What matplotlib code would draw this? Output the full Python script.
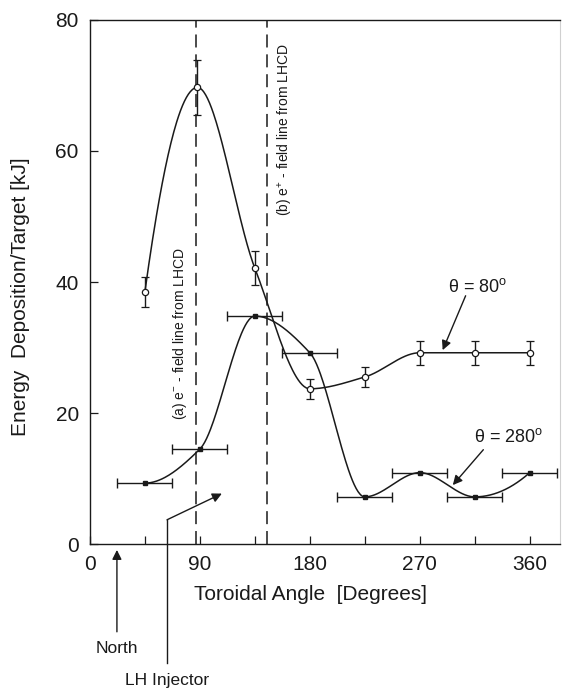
import numpy as np
import matplotlib
matplotlib.use("Agg")
import matplotlib.pyplot as plt

plt.rcParams['font.family'] = ['Liberation Sans', 'DejaVu Sans']
plt.rcParams['mathtext.fontset'] = 'custom'
plt.rcParams['mathtext.rm'] = 'Liberation Sans'
plt.rcParams['mathtext.it'] = 'Liberation Sans:italic'

# theta = 80 deg series (open circles, vertical error bars)
ang80 = [45, 88, 135, 180, 225, 270, 315, 360]
e80 = [38.5, 69.7, 42.1, 23.7, 25.5, 29.2, 29.2, 29.2]
err80 = [2.3, 4.2, 2.6, 1.5, 1.6, 1.8, 1.8, 1.8]

# theta = 280 deg series (dots, horizontal error bars)
ang280 = [45, 90, 135, 180, 225, 270, 315, 360]
e280 = [9.3, 14.5, 34.8, 29.2, 7.2, 10.9, 7.2, 10.9]
xerr280 = 22.5

field_lines = [87, 145]
ink = '#1a1a1a'


def pchip(x, y, xs):
    x = np.asarray(x, float)
    y = np.asarray(y, float)
    h = np.diff(x)
    d = np.diff(y) / h
    n = len(x)
    m = np.zeros(n)
    for k in range(1, n - 1):
        if d[k - 1] * d[k] > 0:
            w1 = 2 * h[k] + h[k - 1]
            w2 = h[k] + 2 * h[k - 1]
            m[k] = (w1 + w2) / (w1 / d[k - 1] + w2 / d[k])
    for i, (a, b, hh0, hh1) in ((0, (d[0], d[1], h[0], h[1])),
                                (n - 1, (d[-1], d[-2], h[-1], h[-2]))):
        v = ((2 * hh0 + hh1) * a - hh0 * b) / (hh0 + hh1)
        if np.sign(v) != np.sign(a):
            v = 0.0
        elif np.sign(a) != np.sign(b) and abs(v) > abs(3 * a):
            v = 3 * a
        m[i] = v
    idx = np.clip(np.searchsorted(x, xs) - 1, 0, n - 2)
    t = (xs - x[idx]) / h[idx]
    h00 = 2 * t**3 - 3 * t**2 + 1
    h10 = t**3 - 2 * t**2 + t
    h01 = -2 * t**3 + 3 * t**2
    h11 = t**3 - t**2
    return (h00 * y[idx] + h10 * h[idx] * m[idx]
            + h01 * y[idx + 1] + h11 * h[idx] * m[idx + 1])


fig = plt.figure(figsize=(5.62, 6.89), dpi=100)
ax = fig.add_axes([0.160, 0.2104, 0.837, 0.7606])

xs80 = np.linspace(ang80[0], ang80[-1], 400)
ax.plot(xs80, pchip(ang80, e80, xs80), color=ink, lw=1.1)
xs280 = np.linspace(ang280[0], ang280[-1], 400)
ax.plot(xs280, pchip(ang280, e280, xs280), color=ink, lw=1.1)

ax.errorbar(ang80, e80, yerr=err80, fmt='o', ms=4.5, mfc='white', mec=ink,
            mew=0.9, ecolor=ink, elinewidth=1.0, capsize=3, capthick=1.0)
ax.errorbar(ang280, e280, xerr=xerr280, fmt='s', ms=2.5, mfc=ink, mec=ink,
            ecolor=ink, elinewidth=1.0, capsize=3.5, capthick=1.0)

for xv in field_lines:
    ax.axvline(xv, color=ink, lw=1.1, dashes=(8.5, 4.5))

ax.set_xlim(0, 385)
ax.set_ylim(0, 80)
ax.set_xticks([0, 90, 180, 270, 360])
ax.set_xticks([45, 135, 225, 315], minor=True)
ax.set_yticks([0, 20, 40, 60, 80])
ax.tick_params(axis='both', which='both', direction='in', length=6,
               width=0.9, labelsize=15, pad=8, colors=ink)
ax.tick_params(axis='x', which='minor', length=6)
for s in ['left', 'bottom', 'top']:
    ax.spines[s].set_linewidth(1.0)
    ax.spines[s].set_color(ink)
ax.spines['right'].set_color('#d0d0d0')
ax.spines['right'].set_linewidth(0.8)

ax.text(73.8, 32.1, '(a) e$^{-}$ - field line from LHCD', rotation=90,
        ha='center', va='center', fontsize=10, color=ink)
ax.text(160, 63.3, '(b) e$^{+}$ - field line from LHCD', rotation=90,
        ha='center', va='center', fontsize=10, color=ink)

ax.text(317, 39.2, r'θ = 80$^{\rm o}$', ha='center', va='center',
        fontsize=13, color=ink)
ax.annotate('', xy=(288.7, 29.6), xytext=(307.5, 37.9),
            arrowprops=dict(arrowstyle='-|>', color=ink, lw=1.0,
                            mutation_scale=14, shrinkA=0, shrinkB=0))
ax.text(343, 16.3, r'θ = 280$^{\rm o}$', ha='center', va='center',
        fontsize=13, color=ink)
ax.annotate('', xy=(297, 9.0), xytext=(322, 14.4),
            arrowprops=dict(arrowstyle='-|>', color=ink, lw=1.0,
                            mutation_scale=14, shrinkA=0, shrinkB=0))

# LH injector and North pointers below the axis
ax.plot([63.1, 63.1], [-18.2, 3.7], color=ink, lw=1.0, clip_on=False)
ax.annotate('', xy=(108, 7.7), xytext=(63.1, 3.7), annotation_clip=False,
            arrowprops=dict(arrowstyle='-|>', color=ink, lw=1.0,
                            mutation_scale=14, shrinkA=0, shrinkB=0))
ax.annotate('', xy=(22.1, -0.9), xytext=(22.1, -13.4), annotation_clip=False,
            arrowprops=dict(arrowstyle='-|>', color=ink, lw=1.0,
                            mutation_scale=14, shrinkA=0, shrinkB=0))
ax.text(22.1, -15.9, 'North', ha='center', va='center', fontsize=12.5,
        color=ink, clip_on=False)
ax.text(63.1, -20.8, 'LH Injector', ha='center', va='center', fontsize=12.5,
        color=ink, clip_on=False)

fig.text(311 / 562, 1 - 600 / 689, 'Toroidal Angle  [Degrees]', ha='center',
         va='baseline', fontsize=15, color=ink)
fig.text(21 / 562, 1 - 297 / 689, 'Energy  Deposition/Target [kJ]',
         rotation=90, ha='center', va='center', fontsize=15, color=ink)

fig.savefig('out.png', dpi=100)
